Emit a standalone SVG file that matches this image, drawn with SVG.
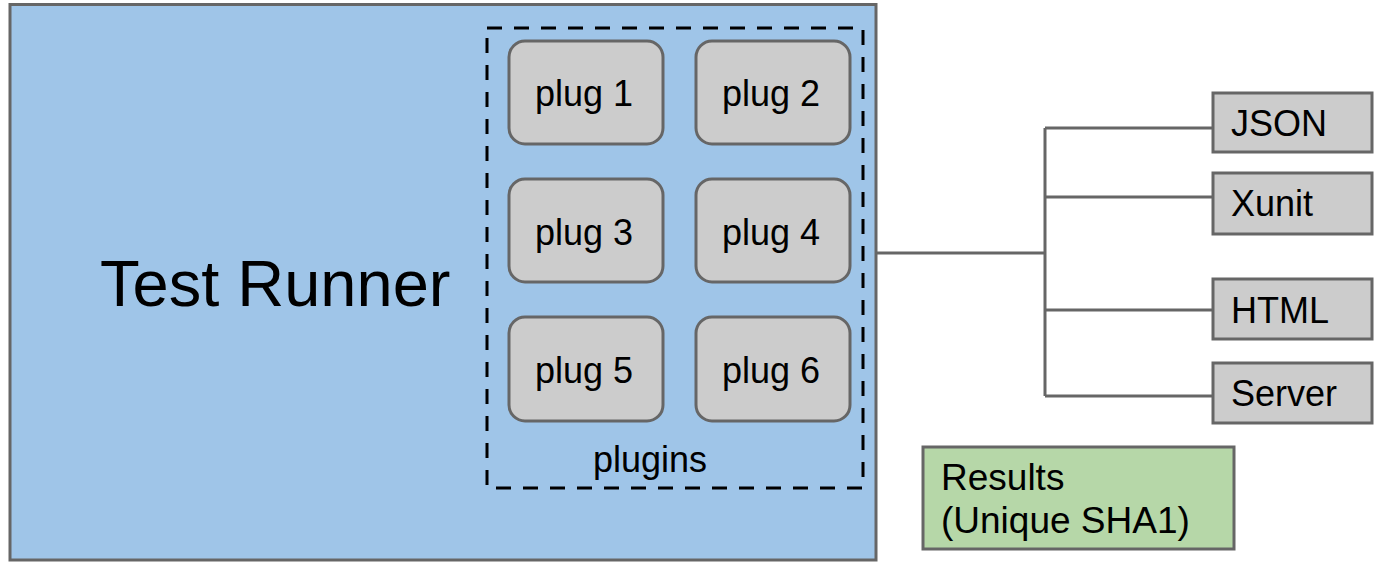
<svg xmlns="http://www.w3.org/2000/svg" width="1377" height="562" viewBox="0 0 1377 562">
  <style>
    text { font-family: "Liberation Sans", Arial, sans-serif; fill: #000; }
    .runner { fill: #9fc5e8; stroke: #666; stroke-width: 3; }
    .plug { fill: #ccc; stroke: #666; stroke-width: 3; }
    .out { fill: #ccc; stroke: #666; stroke-width: 3; }
    .results { fill: #b6d7a8; stroke: #666; stroke-width: 3; }
    .group { fill: none; stroke: #000; stroke-width: 3; stroke-dasharray: 15 12; }
    .wire { fill: none; stroke: #666; stroke-width: 3; }
    .lbl { font-size: 36px; }
    .mid { text-anchor: middle; }
  </style>

  <!-- Test runner container -->
  <g id="test-runner">
    <rect class="runner" x="10" y="4.5" width="866" height="555.5"/>
    <text x="100" y="306" font-size="65">Test Runner</text>
  </g>

  <!-- Plugin group -->
  <g id="plugins">
    <rect class="group" x="487" y="28" width="376" height="460"/>
    <text class="lbl mid" x="650" y="472">plugins</text>
  </g>

  <g id="plug1">
    <rect class="plug" x="509" y="41" width="154" height="103" rx="16"/>
    <text class="lbl mid" x="584" y="106">plug 1</text>
  </g>
  <g id="plug2">
    <rect class="plug" x="696" y="41" width="154" height="103" rx="16"/>
    <text class="lbl mid" x="771" y="106">plug 2</text>
  </g>
  <g id="plug3">
    <rect class="plug" x="509" y="179" width="154" height="103" rx="16"/>
    <text class="lbl mid" x="584" y="245">plug 3</text>
  </g>
  <g id="plug4">
    <rect class="plug" x="696" y="179" width="154" height="103" rx="16"/>
    <text class="lbl mid" x="771" y="245">plug 4</text>
  </g>
  <g id="plug5">
    <rect class="plug" x="509" y="317" width="154" height="104" rx="16"/>
    <text class="lbl mid" x="584" y="383">plug 5</text>
  </g>
  <g id="plug6">
    <rect class="plug" x="696" y="317" width="154" height="104" rx="16"/>
    <text class="lbl mid" x="771" y="383">plug 6</text>
  </g>

  <!-- Connectors from runner to output formats -->
  <g id="connectors">
    <path class="wire" d="M877 253 H1045"/>
    <path class="wire" d="M1045 128 V396"/>
    <path class="wire" d="M1045 128 H1213"/>
    <path class="wire" d="M1045 197 H1213"/>
    <path class="wire" d="M1045 310 H1213"/>
    <path class="wire" d="M1045 396 H1213"/>
  </g>

  <!-- Output formats -->
  <g id="json">
    <rect class="out" x="1213" y="93" width="159" height="59"/>
    <text class="lbl" x="1231" y="136">JSON</text>
  </g>
  <g id="xunit">
    <rect class="out" x="1213" y="173" width="159" height="61"/>
    <text class="lbl" x="1231" y="216">Xunit</text>
  </g>
  <g id="html">
    <rect class="out" x="1213" y="279" width="159" height="60"/>
    <text class="lbl" x="1231" y="323">HTML</text>
  </g>
  <g id="server">
    <rect class="out" x="1213" y="363" width="159" height="60"/>
    <text class="lbl" x="1231" y="406">Server</text>
  </g>

  <!-- Results store -->
  <g id="results">
    <rect class="results" x="923" y="447" width="311" height="102"/>
    <text x="941" y="490" font-size="37">Results</text>
    <text x="941" y="533" font-size="37">(Unique SHA1)</text>
  </g>
</svg>
